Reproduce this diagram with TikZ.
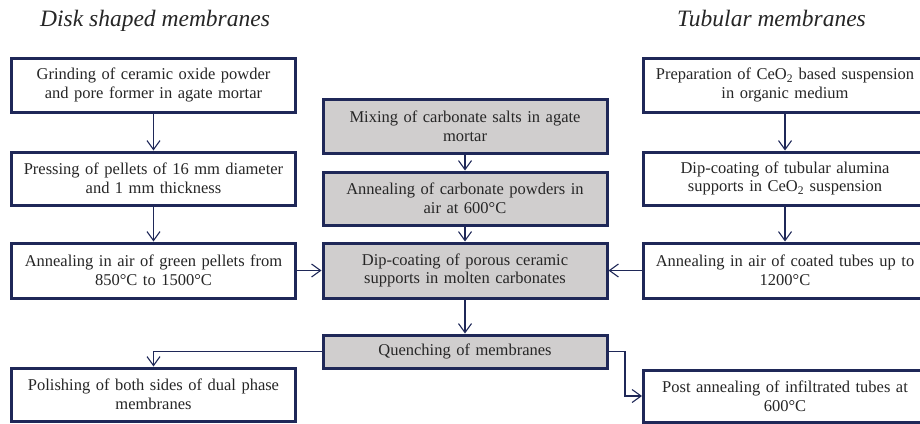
\documentclass[tikz,border=0pt]{standalone}
\usepackage{fontspec}
\setmainfont{Liberation Serif}
\usetikzlibrary{arrows.meta}
\definecolor{navy}{HTML}{1F2858}
\definecolor{boxgray}{HTML}{D0CECE}
\tikzset{
  procbox/.style={draw=navy, line width=3bp, fill=white, inner sep=0pt,
    align=center, minimum width=283bp, text width=275bp,
    font=\fontsize{16.5bp}{18.6bp}\selectfont, text=black!85},
  graybox/.style={procbox, fill=boxgray},
  conn/.style={draw=navy, line width=1.2bp, -{Straight Barb[length=9bp,width=13bp,line width=1.1bp]}},
  title/.style={font=\fontsize{23.5bp}{26bp}\selectfont\itshape, text=black!85, inner sep=0pt, anchor=base west}
}
\begin{document}
\begin{tikzpicture}[x=1bp,y=-1bp]
\useasboundingbox (0,0) rectangle (920,423);
\node[title] (t1) at (40,26) {Disk shaped membranes};
\node[title] (t2) at (677,26) {Tubular membranes};
% left column
\node[procbox, minimum height=54bp] (L1) at (153.5,85) {Grinding of ceramic oxide powder\\and pore former in agate mortar};
\node[procbox, minimum height=53bp] (L2) at (153.5,178.5) {Pressing of pellets of 16 mm diameter\\and 1 mm thickness};
\node[procbox, minimum height=55bp] (L3) at (153.5,270.5) {Annealing in air of green pellets from\\850°C to 1500°C};
\node[procbox, minimum height=53bp] (L4) at (153.5,394.5) {Polishing of both sides of dual phase\\membranes};
% center column
\node[graybox, minimum width=284bp, minimum height=54bp] (C1) at (465,126) {Mixing of carbonate salts in agate\\mortar};
\node[graybox, minimum width=284bp, minimum height=53bp] (C2) at (465,198.5) {Annealing of carbonate powders in\\air at 600°C};
\node[graybox, minimum width=284bp, minimum height=55bp] (C3) at (465,270.5) {Dip-coating of porous ceramic\\supports in molten carbonates};
\node[graybox, minimum width=284bp, minimum height=33bp] (C4) at (465,351.5) {Quenching of membranes};
% right column
\node[procbox, minimum height=54bp] (R1) at (785,85) {Preparation of CeO\textsubscript{2} based suspension\\in organic medium};
\node[procbox, minimum height=53bp] (R2) at (785,178.5) {Dip-coating of tubular alumina\\supports in CeO\textsubscript{2} suspension};
\node[procbox, minimum height=55bp] (R3) at (785,270.5) {Annealing in air of coated tubes up to\\1200°C};
\node[procbox, minimum height=52bp] (R4) at (785,396) {Post annealing of infiltrated tubes at\\600°C};
\coordinate (qr) at (625,351.5);
\coordinate (ql) at (153.5,351.5);
% connectors
\draw[conn] (L1) -- (L2);
\draw[conn] (L2) -- (L3);
\draw[conn] (L3) -- (C3);
\draw[conn] (C1) -- (C2);
\draw[conn] (C2) -- (C3);
\draw[conn] (C3) -- (C4);
\draw[conn] (R1) -- (R2);
\draw[conn] (R2) -- (R3);
\draw[conn] (R3) -- (C3);
\draw[conn] (C4.west) -- (ql) -- (L4.north);
\draw[conn] (C4.east) -- (qr) |- (R4.west);
\end{tikzpicture}
\end{document}
